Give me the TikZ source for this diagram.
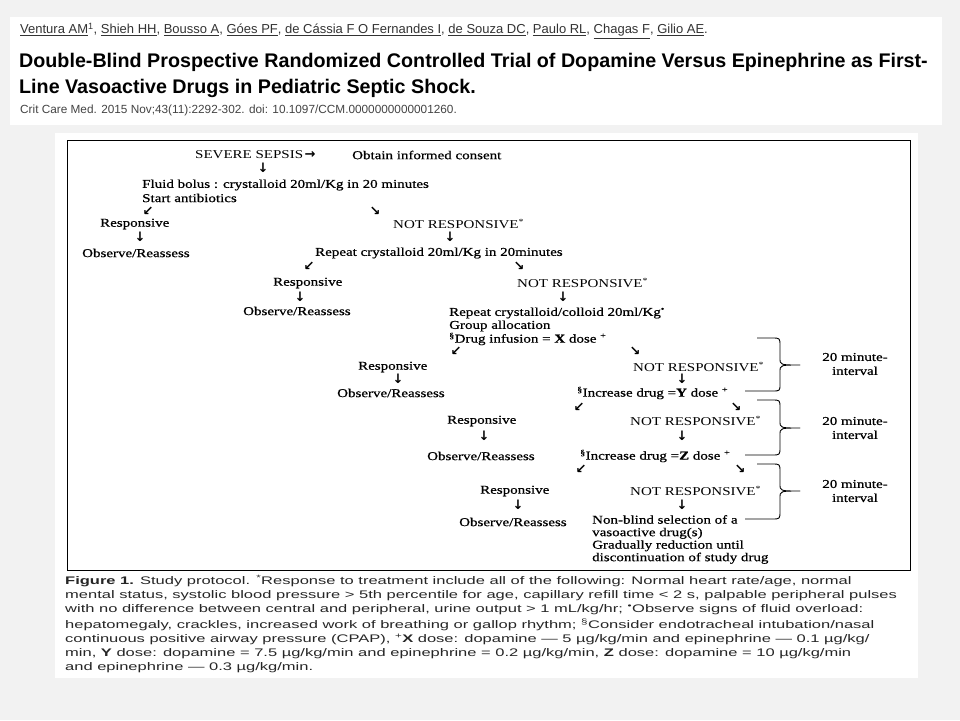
\documentclass[tikz,border=0pt]{standalone}
\usepackage{fontspec}
\setmainfont{Liberation Serif}
\newfontfamily\fcfont[FakeStretch=1.25]{Liberation Serif}
\newfontfamily\fcbfont[FakeStretch=1.25,FakeBold=0.7]{Liberation Serif}
\newfontfamily\capfont[FakeStretch=1.5]{Liberation Sans}
\newfontfamily\hdfont{Liberation Sans}
\newfontfamily\arrfont{DejaVu Sans}
\definecolor{bggray}{HTML}{F2F2F2}
\definecolor{authgray}{HTML}{333333}
\definecolor{citegray}{HTML}{444444}
\tikzset{
  fc/.style={inner sep=0pt, anchor=west, font=\fcfont\fontsize{12}{12.5}\selectfont},
  fcb/.style={inner sep=0pt, anchor=west, font=\fcbfont\fontsize{12}{12.5}\selectfont},
  fcml/.style={fcb, align=left},
  arr/.style={inner sep=0pt, font=\arrfont\bfseries\fontsize{13}{13}\selectfont},
  ivl/.style={inner sep=0pt, align=center, font=\fcbfont\fontsize{12}{14}\selectfont},
  bracel/.style={line width=0.9pt, line join=round},
  capl/.style={inner sep=0pt, anchor=west, font=\capfont\fontsize{11}{13}\selectfont, text=black!85},
  auth/.style={inner sep=0pt, anchor=west, font=\hdfont\fontsize{13}{15}\selectfont, text=authgray},
  ttl/.style={inner sep=0pt, anchor=west, font=\hdfont\bfseries\fontsize{19.7}{22}\selectfont},
  cite/.style={inner sep=0pt, anchor=west, font=\hdfont\fontsize{11.8}{13}\selectfont, text=citegray},
  panel/.style={fill=white, draw=none},
}
\begin{document}
\begin{tikzpicture}[x=1pt,y=-1pt]
\useasboundingbox (0,0) rectangle (960,720);
\fill[bggray] (0,0) rectangle (960,720);
\fill[panel] (10,17) rectangle (942,125);
\fill[panel] (55,133) rectangle (918,678);
\draw[line width=1pt] (67,140) rectangle (910,570);

% header
\node[auth] (authors) at (20,31) {\underline{Ventura AM}\textsuperscript{1}, \underline{Shieh HH}, \underline{Bousso A}, \underline{Góes PF}, \underline{de Cássia F O Fernandes I}, \underline{de Souza DC}, \underline{Paulo RL}, \underline{Chagas F}, \underline{Gilio AE}.};
\node[ttl] (title1) at (19,62) {Double-Blind Prospective Randomized Controlled Trial of Dopamine Versus Epinephrine as First-};
\node[ttl] (title2) at (19,88) {Line Vasoactive Drugs in Pediatric Septic Shock.};
\node[cite] (cite) at (20,110) {Crit Care Med. 2015 Nov;43(11):2292-302. doi: 10.1097/CCM.0000000000001260.};

% flowchart
\node[fc] (sepsis) at (195,155) {SEVERE SEPSIS};
\node[arr, anchor=west] (a0) at ([xshift=1pt]sepsis.east) {→};
\node[fcb] (consent) at (352,155) {Obtain informed consent};
\node[arr] (a1) at (263,168) {↓};
\node[fcb] (bolus) at (142,185) {Fluid bolus : crystalloid 20ml/Kg in 20 minutes};
\node[fcb] (antib) at (142,198) {Start antibiotics};
\node[arr] (a2) at (148,211) {↙};
\node[arr] (a3) at (375,211) {↘};
\node[fcb] (resp1) at (100,224) {Responsive};
\node[fc] (nr1) at (393,224) {NOT RESPONSIVE\textsuperscript{*}};
\node[arr] (a4) at (140,237) {↓};
\node[arr] (a5) at (450,237) {↓};
\node[fcb] (obs1) at (82,253) {Observe/Reassess};
\node[fcb] (rep1) at (315,253) {Repeat crystalloid 20ml/Kg in 20minutes};
\node[arr] (a6) at (309,266) {↙};
\node[arr] (a7) at (519,266) {↘};
\node[fcb] (resp2) at (273,283) {Responsive};
\node[fc] (nr2) at (517,283) {NOT RESPONSIVE\textsuperscript{*}};
\node[arr] (a8) at (300,297) {↓};
\node[arr] (a9) at (563,297) {↓};
\node[fcb] (obs2) at (243,311) {Observe/Reassess};
\node[fcb] (rep2) at (449,313) {Repeat crystalloid/colloid 20ml/Kg\textsuperscript{•}};
\node[fcb] (group) at (449,326) {Group allocation};
\node[fcb] (drugx) at (449,339) {\textsuperscript{§}Drug infusion = \textbf{X} dose \textsuperscript{+}};
\node[arr] (a10) at (456,351) {↙};
\node[arr] (a11) at (635,351) {↘};
\node[fcb] (resp3) at (358,367) {Responsive};
\node[fc] (nr3) at (633,367) {NOT RESPONSIVE\textsuperscript{*}};
\node[arr] (a12) at (398,378.5) {↓};
\node[arr] (a13) at (682,378.5) {↓};
\node[fcb] (obs3) at (337,393) {Observe/Reassess};
\node[fcb] (drugy) at (577,393) {\textsuperscript{§}Increase drug =\textbf{Y} dose \textsuperscript{+}};
\node[arr] (a14) at (579,407) {↙};
\node[arr] (a15) at (736,407) {↘};
\node[fcb] (resp4) at (447,421) {Responsive};
\node[fc] (nr4) at (630,421) {NOT RESPONSIVE\textsuperscript{*}};
\node[arr] (a16) at (484,436) {↓};
\node[arr] (a17) at (682,436) {↓};
\node[fcb] (obs4) at (427,456) {Observe/Reassess};
\node[fcb] (drugz) at (580,456) {\textsuperscript{§}Increase drug =\textbf{Z} dose \textsuperscript{+}};
\node[arr] (a18) at (581,469) {↙};
\node[arr] (a19) at (740,469) {↘};
\node[fcb] (resp5) at (480,491) {Responsive};
\node[fc] (nr5) at (630,491) {NOT RESPONSIVE\textsuperscript{*}};
\node[arr] (a20) at (518,505) {↓};
\node[arr] (a21) at (682,505) {↓};
\node[fcb] (obs5) at (459,522) {Observe/Reassess};
\node[fcml, anchor=north west] (nonblind) at (592,515) {Non-blind selection of a\\vasoactive drug(s)\\Gradually reduction until\\discontinuation of study drug};

% braces
\draw[bracel] (757,338) -- (772,338) .. controls (780,338) .. (780,346) -- (780,358) .. controls (780,365) .. (800,365) .. controls (780,365) .. (780,372) -- (780,384) .. controls (780,391) .. (772,391) -- (745,391);
\draw[bracel] (757,400) -- (772,400) .. controls (780,400) .. (780,408) -- (780,421) .. controls (780,428) .. (800,428) .. controls (780,428) .. (780,435) -- (780,447) .. controls (780,455) .. (772,455) -- (745,455);
\draw[bracel] (757,464) -- (772,464) .. controls (780,464) .. (780,472) -- (780,484) .. controls (780,491) .. (800,491) .. controls (780,491) .. (780,498) -- (780,511) .. controls (780,519) .. (772,519) -- (745,519);
\node[ivl] (iv1) at (855,364) {20 minute-\\interval};
\node[ivl] (iv2) at (855,428) {20 minute-\\interval};
\node[ivl] (iv3) at (855,491) {20 minute-\\interval};

% caption
\node[capl] (c1) at (65,581) {\textbf{Figure 1.} Study protocol. \textsuperscript{*}Response to treatment include all of the following: Normal heart rate/age, normal};
\node[capl] (c2) at (65,595.5) {mental status, systolic blood pressure > 5th percentile for age, capillary refill time < 2 s, palpable peripheral pulses};
\node[capl] (c3) at (65,610) {with no difference between central and peripheral, urine output > 1 mL/kg/hr; \textsuperscript{•}Observe signs of fluid overload:};
\node[capl] (c4) at (65,624.5) {hepatomegaly, crackles, increased work of breathing or gallop rhythm; \textsuperscript{§}Consider endotracheal intubation/nasal};
\node[capl] (c5) at (65,639) {continuous positive airway pressure (CPAP), \textsuperscript{+}\textbf{X} dose: dopamine — 5 µg/kg/min and epinephrine — 0.1 µg/kg/};
\node[capl] (c6) at (65,653.5) {min, \textbf{Y} dose: dopamine = 7.5 µg/kg/min and epinephrine = 0.2 µg/kg/min, \textbf{Z} dose: dopamine = 10 µg/kg/min};
\node[capl] (c7) at (65,668) {and epinephrine — 0.3 µg/kg/min.};
\end{tikzpicture}
\end{document}
